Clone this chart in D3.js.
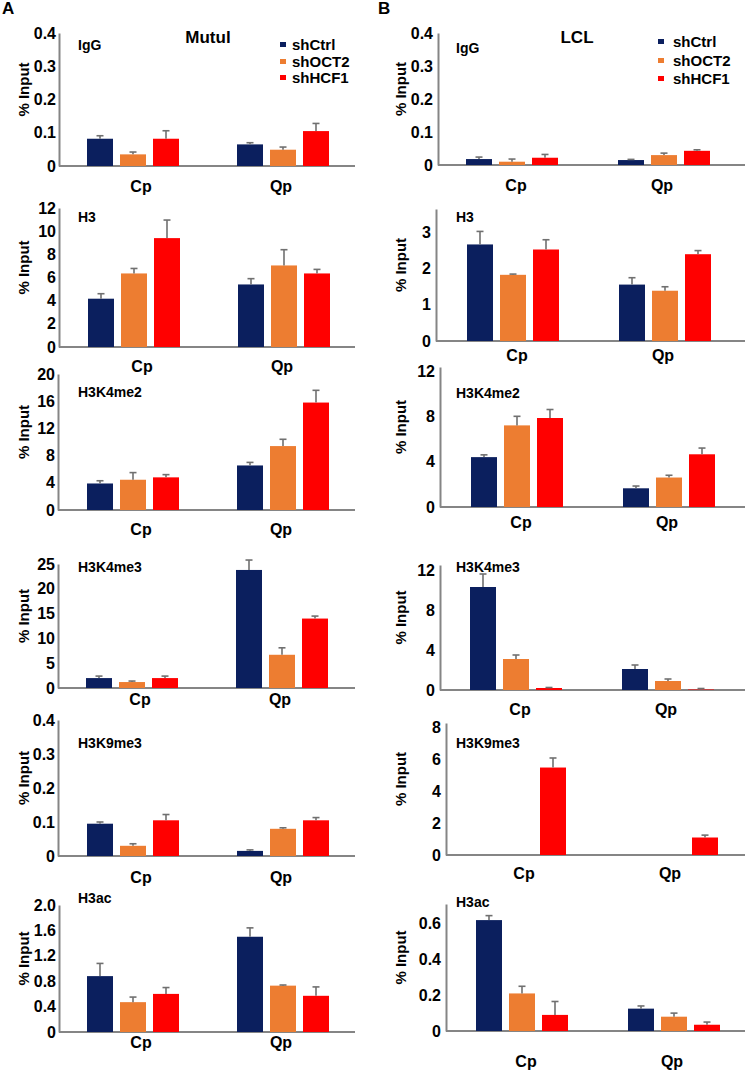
<!DOCTYPE html>
<html><head><meta charset="utf-8">
<script src="https://cdn.jsdelivr.net/npm/d3@7"></script>
<style>
body{margin:0;background:#fff}
text{font-family:"Liberation Sans",Arial,sans-serif;font-weight:bold;fill:#000}
</style>
</head><body>
<svg id="chart" width="750" height="1070"></svg>
<script>
// ---------- data ----------
const sites = ["Cp", "Qp"];
const series = ["shCtrl", "shOCT2", "shHCF1"];
const seriesColors = ["#0b1f5e", "#ed7d31", "#ff0000"];
const marks = ["IgG", "H3", "H3K4me2", "H3K4me3", "H3K9me3", "H3ac"];
const cellLines = ["Mutul", "LCL"];
const panelLetters = ["A", "B"];

// order within each row: Cp shCtrl, Cp shOCT2, Cp shHCF1, Qp shCtrl, Qp shOCT2, Qp shHCF1
const mutuMean = [
  [0.082, 0.035, 0.082, 0.065, 0.049, 0.105],
  [4.17, 6.35, 9.4, 5.4, 7.04, 6.35],
  [3.9, 4.45, 4.8, 6.55, 9.4, 15.8],
  [2.0, 1.2, 2.0, 23.8, 6.7, 14.0],
  [0.095, 0.03, 0.105, 0.015, 0.08, 0.105],
  [0.88, 0.47, 0.6, 1.5, 0.73, 0.57]
];
const mutuErr = [
  [0.009, 0.007, 0.024, 0.005, 0.008, 0.023],
  [0.43, 0.43, 1.56, 0.5, 1.36, 0.35],
  [0.4, 1.05, 0.4, 0.45, 1.0, 1.8],
  [0.4, 0.2, 0.4, 2.0, 1.4, 0.5],
  [0.005, 0.006, 0.017, 0.003, 0.003, 0.008],
  [0.2, 0.08, 0.1, 0.14, 0.01, 0.14]
];
const lclMean = [
  [0.018, 0.01, 0.022, 0.015, 0.03, 0.043],
  [2.67, 1.83, 2.53, 1.56, 1.39, 2.4],
  [4.4, 7.2, 7.85, 1.65, 2.6, 4.65],
  [10.3, 3.1, 0.2, 2.1, 0.9, 0.05],
  [0, 0, 5.5, 0, 0, 1.1],
  [0.62, 0.21, 0.09, 0.125, 0.08, 0.035]
];
const lclErr = [
  [0.006, 0.008, 0.01, 0.002, 0.006, 0.003],
  [0.36, 0.02, 0.27, 0.19, 0.11, 0.1],
  [0.2, 0.8, 0.75, 0.2, 0.2, 0.55],
  [1.3, 0.4, 0.05, 0.4, 0.2, 0.1],
  [0, 0, 0.6, 0, 0, 0.15],
  [0.025, 0.04, 0.075, 0.015, 0.02, 0.015]
];
const mutuTicks = [[0,0.1,0.2,0.3,0.4],[0,2,4,6,8,10,12],[0,4,8,12,16,20],[0,5,10,15,20,25],[0,0.1,0.2,0.3,0.4],[0,0.4,0.8,1.2,1.6,2.0]];
const lclTicks = [[0,0.1,0.2,0.3,0.4],[0,1,2,3],[0,4,8,12],[0,4,8,12],[0,2,4,6,8],[0,0.2,0.4,0.6]];
const mutuMax = [0.4, 12, 20, 25, 0.4, 2.0];
const lclMax = [0.4, 3.65, 12.35, 12.5, 8.3, 0.71];
const mutuFmt = [".1f", "d", "d", "d", ".1f", ".1f"];
const lclFmt = [".1f", "d", "d", "d", "d", ".1f"];

// ---------- layout ----------
const cols = [
  { xEnd: 355, step: 150, ylabX: 24, pad: 3, markX: 78, cpShift: 8, qpShift: -2, titleX: 208,
    legSq: 280, legTx: 292, legY: [45, 62, 78], letterX: 2,
    rows: [
      { base: 166, top: 33, ax: 59, bx: 87, lblDy: 26, markY: 45 },
      { base: 347, top: 208, ax: 59, bx: 88, lblDy: 25, markY: 217 },
      { base: 510, top: 374, ax: 58, bx: 87, lblDy: 25, markY: 392 },
      { base: 688, top: 564, ax: 58, bx: 86, lblDy: 17, markY: 567 },
      { base: 856, top: 720, ax: 58, bx: 87, lblDy: 27, markY: 743 },
      { base: 1032, top: 905, ax: 59, bx: 87, lblDy: 16, markY: 898 }
    ] },
  { xEnd: 745, step: 152, ylabX: 401, pad: 5, markX: 456, cpShift: 4, qpShift: -2, titleX: 577,
    legSq: 658, legTx: 673, legY: [42, 61, 79], letterX: 378,
    rows: [
      { base: 165, top: 33, ax: 438, bx: 466, lblDy: 26, markY: 48 },
      { base: 341, top: 209, ax: 436, bx: 467, lblDy: 20, markY: 217 },
      { base: 507, top: 367, ax: 440, bx: 471, lblDy: 21, markY: 393 },
      { base: 690, top: 565, ax: 440, bx: 470, lblDy: 25, markY: 567 },
      { base: 855, top: 723, ax: 446, bx: 474, lblDy: 24, markY: 743 },
      { base: 1031, top: 904, ax: 446, bx: 476, lblDy: 36, markY: 902 }
    ] }
];
const datasets = [
  { mean: mutuMean, err: mutuErr, ticks: mutuTicks, max: mutuMax, fmt: mutuFmt },
  { mean: lclMean, err: lclErr, ticks: lclTicks, max: lclMax, fmt: lclFmt }
];

const svg = d3.select("#chart");
const groupW = 92;

cols.forEach((col, ci) => {
  const ds = datasets[ci];
  // letter + title + legend
  svg.append("text").attr("x", col.letterX).attr("y", 14).attr("font-size", 17).text(panelLetters[ci]);
  svg.append("text").attr("x", col.titleX).attr("y", 43).attr("text-anchor", "middle")
    .attr("font-size", 17).text(cellLines[ci]);
  series.forEach((s, si) => {
    svg.append("rect").attr("x", col.legSq).attr("y", col.legY[si] - 3).attr("width", 6).attr("height", 5)
      .attr("fill", seriesColors[si]);
    svg.append("text").attr("x", col.legTx).attr("y", col.legY[si]).attr("dy", "0.36em")
      .attr("font-size", 15).text(s);
  });

  col.rows.forEach((r, mi) => {
    const g = svg.append("g");
    const y = d3.scaleLinear().domain([0, ds.max[mi]]).range([r.base, r.top]);
    const outer = d3.scaleBand().domain(sites)
      .range([r.bx, r.bx + col.step + groupW])
      .paddingInner((col.step - groupW) / col.step).paddingOuter(0);
    const inner = d3.scaleBand().domain(series).range([0, outer.bandwidth()])
      .paddingInner(7 / 33).paddingOuter(0);

    // y axis
    const fmt = d3.format(ds.fmt[mi]);
    const axis = d3.axisLeft(y).tickValues(ds.ticks[mi]).tickSize(0).tickPadding(col.pad)
      .tickFormat(d => d === 0 ? "0" : fmt(d));
    const ag = g.append("g").attr("transform", `translate(${r.ax},0)`).call(axis);
    ag.select(".domain").attr("stroke", "#858585").attr("stroke-width", 2);
    ag.selectAll(".tick text").attr("font-size", 16).attr("font-family", '"Liberation Sans",Arial,sans-serif')
      .attr("font-weight", "bold").attr("fill", "#000");

    // x axis line
    g.append("line").attr("x1", r.ax).attr("x2", col.xEnd).attr("y1", y(0)).attr("y2", y(0))
      .attr("stroke", "#858585").attr("stroke-width", 2);

    // y axis title
    const midY = (r.base + r.top) / 2 - 10;
    g.append("text").attr("transform", `translate(${col.ylabX},${midY}) rotate(-90)`)
      .attr("text-anchor", "middle").attr("dy", "0.35em").attr("font-size", 15).text("% Input");

    // mark label
    g.append("text").attr("x", col.markX).attr("y", r.markY).attr("dy", "0.36em")
      .attr("font-size", 14).text(marks[mi]);

    // bars
    const cells = [];
    sites.forEach((site, si) => series.forEach((s, k) => {
      const idx = si * 3 + k;
      cells.push({ site, s, k, v: ds.mean[mi][idx], e: ds.err[mi][idx] });
    }));
    const cellsShown = cells.filter(d => d.v > 0);
    g.selectAll("rect.bar").data(cellsShown).enter().append("rect")
      .attr("class", "bar")
      .attr("x", d => outer(d.site) + inner(d.s))
      .attr("width", inner.bandwidth())
      .attr("y", d => y(d.v))
      .attr("height", d => y(0) - y(d.v))
      .attr("fill", d => seriesColors[d.k]);
    // error bars (upper only)
    const eb = g.selectAll("g.err").data(cellsShown.filter(d => d.e > 0)).enter().append("g")
      .attr("class", "err");
    eb.append("line")
      .attr("x1", d => outer(d.site) + inner(d.s) + inner.bandwidth() / 2)
      .attr("x2", d => outer(d.site) + inner(d.s) + inner.bandwidth() / 2)
      .attr("y1", d => y(d.v)).attr("y2", d => y(d.v + d.e))
      .attr("stroke", "#707070").attr("stroke-width", 1.6);
    eb.append("line")
      .attr("x1", d => outer(d.site) + inner(d.s) + inner.bandwidth() / 2 - 3.5)
      .attr("x2", d => outer(d.site) + inner(d.s) + inner.bandwidth() / 2 + 3.5)
      .attr("y1", d => y(d.v + d.e)).attr("y2", d => y(d.v + d.e))
      .attr("stroke", "#707070").attr("stroke-width", 1.6);

    // category labels
    sites.forEach((site, si) => {
      g.append("text")
        .attr("x", outer(site) + outer.bandwidth() / 2 + (si === 0 ? col.cpShift : col.qpShift))
        .attr("y", r.base + r.lblDy).attr("text-anchor", "middle").attr("font-size", 16).text(site);
    });
  });
});
</script>
</body></html>
